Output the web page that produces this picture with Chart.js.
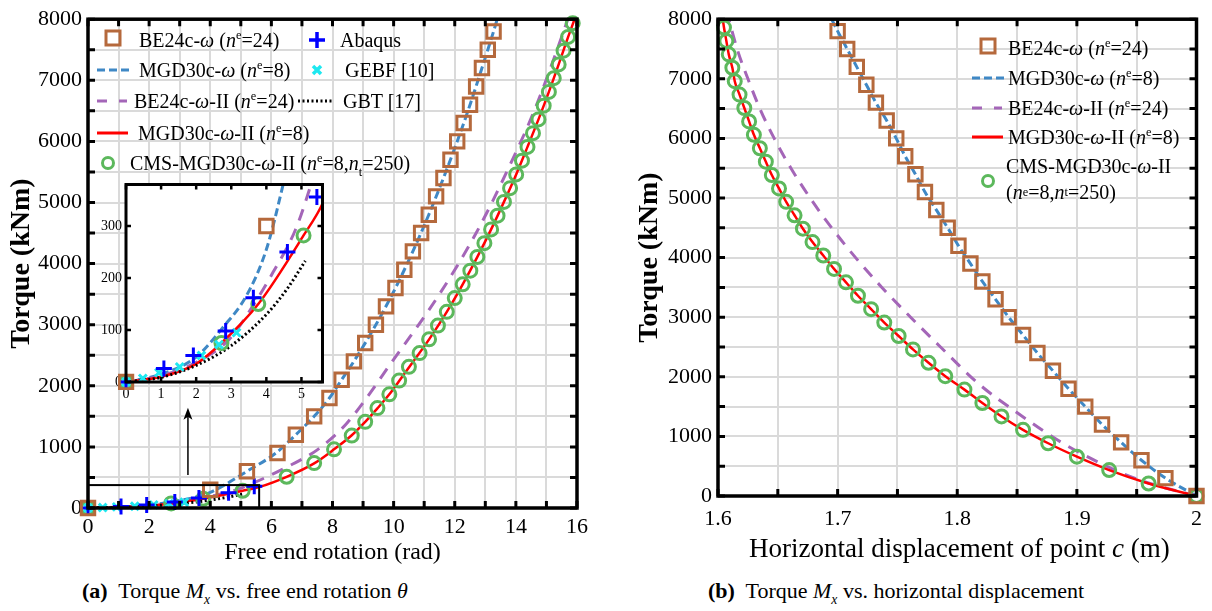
<!DOCTYPE html>
<html>
<head>
<meta charset="utf-8">
<script src="https://cdn.jsdelivr.net/npm/chart.js@4.4.0/dist/chart.umd.min.js"></script>
<style>
body { margin: 0; background: #fff; font-family: "Liberation Serif", "Times New Roman", serif; color: #000; }
#wrap { position: relative; width: 1212px; height: 611px; overflow: hidden; }
canvas { position: absolute; }
.item { position: absolute; display: flex; align-items: center; font-size: 20px; white-space: nowrap; height: 24px; }
.item svg { flex: none; }
sup { font-size: 0.62em; vertical-align: 0.62em; line-height: 0; }
sub { font-size: 0.62em; vertical-align: -0.45em; line-height: 0; }
.cap { position: absolute; font-size: 22px; white-space: nowrap; }
.xtitle { position: absolute; font-size: 27px; white-space: nowrap; }
</style>
</head>
<body>
<div id="wrap">
  <canvas id="left" width="600" height="570" style="left:0;top:0"></canvas>
  <canvas id="right" width="612" height="570" style="left:600px;top:0"></canvas>
  <canvas id="inset" width="240" height="236" style="left:95px;top:172px"></canvas>
  <div id="legends"></div>
  <div class="xtitle" style="left:749px;top:533px">Horizontal displacement of point <i>c</i> (m)</div>
  <div class="cap" style="left:82px;top:578px"><b>(a)</b>&nbsp; Torque <i>M<sub>x</sub></i> vs. free end rotation <i>θ</i></div>
  <div class="cap" style="left:708px;top:578px"><b>(b)</b>&nbsp; Torque <i>M<sub>x</sub></i> vs. horizontal displacement</div>
</div>
<script>
// ---- (a) torque (kNm) vs free end rotation (rad) ----
const be24M = [0,300,600,900,1200,1500,1800,2100,2400,2700,3000,3300,3600,3900,4200,4500,4800,5100,5400,5700,6000,6300,6600,6900,7200,7500,7800];
const be24Rot = [0,4.0,5.2,6.2,6.8,7.4,7.9,8.3,8.7,9.07,9.42,9.75,10.06,10.35,10.63,10.9,11.15,11.39,11.63,11.86,12.08,12.29,12.5,12.7,12.89,13.08,13.27];

const mgdRot = [0,1,2,2.75,3.44,4.0,4.46,5.2,6.15,6.8,7.4,7.9,8.3,8.7,9.42,10.06,10.63,11.15,11.63,12.08,12.5,12.89,13.27,13.39];
const mgdM = [0,15,48,104,167,255,375,600,900,1200,1500,1800,2100,2400,3000,3600,4200,4800,5400,6000,6600,7200,7800,8000];

const be24IIRot = [0,1,2,2.94,3.63,4.19,4.83,5.25,5.9,6.7,7.49,8.47,9.98,11.5,12.7,13.7,14.6,15.35,15.7];
const be24IIM = [0,12,38,82,148,211,293,375,520,720,947,1388,2416,3500,4500,5500,6500,7500,8000];

const mgdIIRot = [0,1,2,2.72,3.77,5.06,5.62,6.5,7.4,8.05,8.63,9.07,9.47,9.86,10.18,10.5,11.16,11.74,12.26,12.74,13.19,13.61,14.01,14.38,14.74,15.08,15.4,15.71,15.92];
const mgdIIM = [0,10,35,75,150,282,346,510,730,960,1190,1410,1630,1860,2080,2300,2760,3210,3660,4110,4560,5010,5460,5910,6360,6810,7260,7710,8000];

const cmsRot = [0,2.72,3.77,5.06,6.5,7.4,8.05,8.63,9.07,9.47,9.86,10.18,10.5,10.85,11.16,11.45,11.74,12.0,12.26,12.51,12.74,12.97,13.19,13.4,13.61,13.81,14.01,14.2,14.38,14.56,14.74,14.91,15.08,15.24,15.4,15.56,15.71,15.86];
const cmsM = [0,75,150,282,510,735,960,1185,1410,1635,1860,2085,2310,2535,2760,2985,3210,3435,3660,3885,4110,4335,4560,4785,5010,5235,5460,5685,5910,6135,6360,6585,6810,7035,7260,7485,7710,7935];

const abqRot = [0,1.08,1.92,2.84,3.63,4.6,5.44];
const abqM = [0,26,51,98,162,250,356];
const gebfRot = [0,0.48,0.94,1.53,2.15,2.65,3.15];
const gebfM = [0,7,18,29,51,72,95];
const gbtRot = [0,1,2,3,4,4.6,5.11];
const gbtM = [0,9,32,70,130,180,233];

const rotTicks = [0,2,4,6,8,10,12,14,16];
const torqueTicks = [0,1000,2000,3000,4000,5000,6000,7000,8000];
const insetRotTicks = [0,1,2,3,4,5];
const insetTorqueTicks = [0,100,200,300];
const insetBox = { rot: 5.6, torque: 375 };
const arrowAt = { rot: 3.27, from: 540, to: 1640 };

// ---- (b) torque (kNm) vs horizontal displacement of point c (m) ----
const be24U = [2.0,1.974,1.954,1.937,1.921,1.907,1.893,1.880,1.867,1.855,1.843,1.832,1.821,1.811,1.801,1.792,1.7825,1.773,1.765,1.7565,1.749,1.741,1.732,1.724,1.716,1.708,1.700];
const mgdU = [2.0,1.974,1.954,1.937,1.921,1.907,1.893,1.880,1.867,1.855,1.843,1.832,1.821,1.811,1.801,1.792,1.7825,1.773,1.765,1.7565,1.749,1.741,1.732,1.724,1.716,1.708,1.700,1.695];
const mgdUM = [0,300,600,900,1200,1500,1800,2100,2400,2700,3000,3300,3600,3900,4200,4500,4800,5100,5400,5700,6000,6300,6600,6900,7200,7500,7800,8000];
const be24IIU = [2.0,1.955,1.927,1.887,1.851,1.818,1.786,1.761,1.737,1.715,1.695,1.677,1.661,1.647,1.635,1.625,1.616,1.609];
const be24IIUM = [0,250,480,900,1385,1880,2500,3000,3500,4000,4500,5000,5500,6000,6500,7000,7500,8000];
const cmsU = [2.0,1.96,1.927,1.90,1.876,1.855,1.837,1.821,1.806,1.79,1.776,1.763,1.751,1.739,1.728,1.717,1.707,1.697,1.688,1.679,1.671,1.664,1.657,1.651,1.645,1.640,1.635,1.630,1.626,1.622,1.618,1.614,1.612,1.609,1.607,1.605];
const cmsUM = [0,210,435,660,885,1110,1335,1560,1785,2010,2235,2460,2685,2910,3135,3360,3585,3810,4035,4260,4485,4710,4935,5160,5385,5610,5835,6060,6285,6510,6735,6960,7185,7410,7635,7860];
const mgdIIU = [2.0,1.96,1.927,1.90,1.876,1.855,1.837,1.821,1.806,1.79,1.776,1.763,1.751,1.739,1.728,1.717,1.707,1.697,1.688,1.679,1.671,1.664,1.657,1.651,1.645,1.640,1.635,1.630,1.626,1.622,1.618,1.614,1.612,1.609,1.607,1.605,1.604];
const mgdIIUM = [0,210,435,660,885,1110,1335,1560,1785,2010,2235,2460,2685,2910,3135,3360,3585,3810,4035,4260,4485,4710,4935,5160,5385,5610,5835,6060,6285,6510,6735,6960,7185,7410,7635,7860,8000];
const dispTicks = [1.6,1.7,1.8,1.9,2];

const brown = '#b5693c', steel = '#3f88c5', purple = '#a466b8', green = '#5cb85c';
const gridCol = '#dadada';

Chart.defaults.font.family = '"Liberation Serif", "Times New Roman", serif';
Chart.defaults.color = '#000';
Chart.defaults.animation = false;

function pts(xs, ys) {
    return xs.map(function (v, i) { return { x: v, y: ys[i] }; });
}

function near(list, v) {
    return list.some(function (t) { return Math.abs(t - v) < 1e-6; });
}

// frame + inward ticks on all four sides
const frameTicks = {
    id: 'frameTicks',
    beforeDraw(chart, args, o) {
        if (!o.fill) return;
        const a = chart.chartArea;
        chart.ctx.save();
        chart.ctx.fillStyle = o.fill;
        chart.ctx.fillRect(a.left, a.top, a.width, a.height);
        chart.ctx.restore();
    },
    afterDraw(chart, args, o) {
        const ctx = chart.ctx, a = chart.chartArea;
        const x = chart.scales.x, y = chart.scales.y;
        ctx.save();
        ctx.strokeStyle = '#000';
        ctx.lineWidth = o.tickWidth;
        ctx.beginPath();
        x.ticks.forEach(function (t) {
            const p = x.getPixelForValue(t.value);
            ctx.moveTo(p, a.bottom); ctx.lineTo(p, a.bottom - o.tickLen);
            ctx.moveTo(p, a.top); ctx.lineTo(p, a.top + o.tickLen);
        });
        y.ticks.forEach(function (t) {
            const p = y.getPixelForValue(t.value);
            ctx.moveTo(a.left, p); ctx.lineTo(a.left + o.tickLen, p);
            ctx.moveTo(a.right, p); ctx.lineTo(a.right - o.tickLen, p);
        });
        ctx.stroke();
        ctx.lineWidth = o.frameWidth;
        ctx.strokeRect(a.left, a.top, a.width, a.height);
        ctx.restore();
    }
};

// zoom rectangle and arrow pointing to the inset
const zoomMarks = {
    id: 'zoomMarks',
    afterDatasetsDraw(chart) {
        const ctx = chart.ctx, x = chart.scales.x, y = chart.scales.y;
        const x0 = x.getPixelForValue(0), x1 = x.getPixelForValue(insetBox.rot);
        const y0 = y.getPixelForValue(0), y1 = y.getPixelForValue(insetBox.torque);
        ctx.save();
        ctx.strokeStyle = '#000';
        ctx.lineWidth = 2;
        ctx.strokeRect(x0, y1, x1 - x0, y0 - y1);
        const ax = x.getPixelForValue(arrowAt.rot);
        const ay0 = y.getPixelForValue(arrowAt.from), ay1 = y.getPixelForValue(arrowAt.to);
        ctx.lineWidth = 1.5;
        ctx.beginPath();
        ctx.moveTo(ax, ay0); ctx.lineTo(ax, ay1 + 6);
        ctx.stroke();
        ctx.fillStyle = '#000';
        ctx.beginPath();
        ctx.moveTo(ax, ay1); ctx.lineTo(ax - 4.5, ay1 + 12); ctx.lineTo(ax, ay1 + 9); ctx.lineTo(ax + 4.5, ay1 + 12);
        ctx.closePath();
        ctx.fill();
        ctx.restore();
    }
};

function lineSet(data, color, width, dash) {
    return { data: data, showLine: true, pointRadius: 0, borderColor: color, borderWidth: width,
        borderDash: dash, cubicInterpolationMode: 'monotone', fill: false };
}

function markSet(data, style, color, radius, width, clip) {
    return { data: data, showLine: false, pointStyle: style, pointRadius: radius, borderColor: color,
        backgroundColor: 'rgba(0,0,0,0)', pointBorderWidth: width, borderWidth: width, clip: clip };
}

function axis(min, max, step, labels, size, pad, fit, grid) {
    return {
        type: 'linear', min: min, max: max,
        ticks: { stepSize: step, autoSkip: false, maxRotation: 0, padding: pad, font: { size: size }, includeBounds: false,
            callback: function (v) { return near(labels, v) ? String(+v.toFixed(2)) : ''; } },
        grid: { display: grid, color: gridCol, lineWidth: 2, drawTicks: false },
        border: { display: false },
        afterFit: fit
    };
}

// (a) main chart
const leftX = axis(0, 16, 1, rotTicks, 22, 6, function (s) { s.height = 62; }, true);
leftX.title = { display: true, text: 'Free end rotation (rad)', font: { size: 24 }, padding: { top: 0, bottom: 3 } };
const leftY = axis(0, 8000, 500, torqueTicks, 22, 6, function (s) { s.width = 88; }, true);
leftY.title = { display: true, text: 'Torque (kNm)', font: { size: 28, weight: 'bold' }, padding: { top: 5 } };

const edgeClip = 9;
function seriesA(clip) {
    return [
        markSet(pts(be24Rot, be24M), 'rect', brown, 9.5, 3, clip),
        markSet(pts(abqRot, abqM), 'cross', '#0000ff', 8, 3, clip),
        markSet(pts(gebfRot, gebfM), 'crossRot', '#1ee8f0', 5.5, 3, clip),
        markSet(pts(cmsRot, cmsM), 'circle', green, 6.5, 3, clip),
        lineSet(pts(gbtRot, gbtM), '#000', 3, [2, 2.5]),
        lineSet(pts(mgdIIRot, mgdIIM), '#ff0000', 2.5, []),
        lineSet(pts(be24IIRot, be24IIM), purple, 3, [12, 9]),
        lineSet(pts(mgdRot, mgdM), steel, 3, [8, 4])
    ];
}

new Chart(document.getElementById('left'), {
    type: 'scatter',
    data: { datasets: seriesA(edgeClip) },
    options: {
        responsive: false, devicePixelRatio: 1,
        layout: { padding: { top: 18, right: 23, left: 0, bottom: 0 } },
        plugins: { legend: { display: false }, tooltip: { enabled: false },
            frameTicks: { tickLen: 7, tickWidth: 3, frameWidth: 3.5 } },
        scales: { x: leftX, y: leftY }
    },
    plugins: [frameTicks, zoomMarks]
});

// (a) inset
const inX = axis(0, insetBox.rot, 1, insetRotTicks, 14, 4, function (s) { s.height = 26; }, false);
const inY = axis(0, 380, 100, insetTorqueTicks, 14, 4, function (s) { s.width = 31; }, false);
new Chart(document.getElementById('inset'), {
    type: 'scatter',
    data: { datasets: seriesA({ left: 8, bottom: 8, top: 0, right: 0 }) },
    options: {
        responsive: false, devicePixelRatio: 1,
        layout: { padding: { top: 8, right: 7, left: 0, bottom: 0 } },
        plugins: { legend: { display: false }, tooltip: { enabled: false },
            frameTicks: { tickLen: 5, tickWidth: 2.5, frameWidth: 3, fill: '#fff' } },
        scales: { x: inX, y: inY }
    },
    plugins: [frameTicks]
});

// (b) chart
const rightX = axis(1.6, 2, 0.05, dispTicks, 22, 10, function (s) { s.height = 74; }, true);
const rightY = axis(0, 8000, 500, torqueTicks, 22, 6, function (s) { s.width = 118; }, true);
rightY.title = { display: true, text: 'Torque (kNm)', font: { size: 28, weight: 'bold' }, padding: { top: 33 } };

new Chart(document.getElementById('right'), {
    type: 'scatter',
    data: {
        datasets: [
            markSet(pts(be24U, be24M), 'rect', brown, 9.5, 3, edgeClip),
            markSet(pts(cmsU, cmsUM), 'circle', green, 6.5, 3, edgeClip),
            lineSet(pts(mgdIIU, mgdIIUM), '#ff0000', 2.5, []),
            lineSet(pts(be24IIU, be24IIUM), purple, 3, [12, 9]),
            lineSet(pts(mgdU, mgdUM), steel, 3, [8, 4])
        ]
    },
    options: {
        responsive: false, devicePixelRatio: 1,
        layout: { padding: { top: 17, right: 12, left: 0, bottom: 0 } },
        plugins: { legend: { display: false }, tooltip: { enabled: false },
            frameTicks: { tickLen: 7, tickWidth: 3, frameWidth: 3.5 } },
        scales: { x: rightX, y: rightY }
    },
    plugins: [frameTicks]
});

// ---- legends (html, for the super/subscripts) ----
const sym = {
    square: '<rect x="10" y="3" width="14" height="14" fill="none" stroke="' + brown + '" stroke-width="3"/>',
    blue: '<line x1="1" y1="12" x2="33" y2="12" stroke="' + steel + '" stroke-width="3" stroke-dasharray="8 4"/>',
    purple: '<line x1="1" y1="12" x2="31" y2="12" stroke="' + purple + '" stroke-width="3" stroke-dasharray="10 12"/>',
    red: '<line x1="1" y1="12" x2="32" y2="12" stroke="#ff0000" stroke-width="3"/>',
    circle: '<circle cx="17" cy="12" r="5.5" fill="none" stroke="' + green + '" stroke-width="3"/>',
    cross: '<path d="M9 12H25M17 4V20" stroke="#0000ff" stroke-width="3.5"/>',
    xmark: '<path d="M13 8L21 16M21 8L13 16" stroke="#1ee8f0" stroke-width="3.5"/>',
    dotted: '<line x1="0" y1="12" x2="36" y2="12" stroke="#000" stroke-width="3" stroke-dasharray="2 2.5"/>'
};

const legendItems = [
    ['square', 96, 40, 7, 'BE24c-<i>ω</i> (<i>n</i><sup>e</sup>=24)'],
    ['blue', 96, 70, 7, 'MGD30c-<i>ω</i> (<i>n</i><sup>e</sup>=8)'],
    ['purple', 96, 101, 2, 'BE24c-<i>ω</i>-II (<i>n</i><sup>e</sup>=24)'],
    ['red', 96, 133, 6, 'MGD30c-<i>ω</i>-II (<i>n</i><sup>e</sup>=8)'],
    ['circle', 91, 163, 3, 'CMS-MGD30c-<i>ω</i>-II (<i>n</i><sup>e</sup>=8,<i>n</i><sub>t</sub>=250)'],
    ['cross', 300, 40, 4, 'Abaqus'],
    ['xmark', 300, 70, 9, 'GEBF [10]'],
    ['dotted', 298, 101, 9, 'GBT [17]'],
    ['square', 971, 48, 1, 'BE24c-<i>ω</i> (<i>n</i><sup>e</sup>=24)'],
    ['blue', 971, 78, 1, 'MGD30c-<i>ω</i> (<i>n</i><sup>e</sup>=8)'],
    ['purple', 971, 108, 1, 'BE24c-<i>ω</i>-II (<i>n</i><sup>e</sup>=24)'],
    ['red', 971, 137, 1, 'MGD30c-<i>ω</i>-II (<i>n</i><sup>e</sup>=8)'],
    ['circle', 971, 181, 1, '']
];

const box = document.getElementById('legends');
legendItems.forEach(function (it) {
    const d = document.createElement('div');
    d.className = 'item';
    d.style.left = it[1] + 'px';
    d.style.top = (it[2] - 12) + 'px';
    d.innerHTML = '<svg width="36" height="24">' + sym[it[0]] + '</svg><span style="margin-left:' + it[3] + 'px">' + it[4] + '</span>';
    box.appendChild(d);
});
const cms1 = document.createElement('div');
cms1.className = 'item';
cms1.style.left = '1006px'; cms1.style.top = '154px';
cms1.innerHTML = 'CMS-MGD30c-<i>ω</i>-II';
box.appendChild(cms1);
const cms2 = document.createElement('div');
cms2.className = 'item';
cms2.style.left = '1006px'; cms2.style.top = '180px';
cms2.innerHTML = '(<i>n</i><sup>e</sup>=8,<i>n</i><sub>t</sub>=250)';
box.appendChild(cms2);
</script>
</body>
</html>
